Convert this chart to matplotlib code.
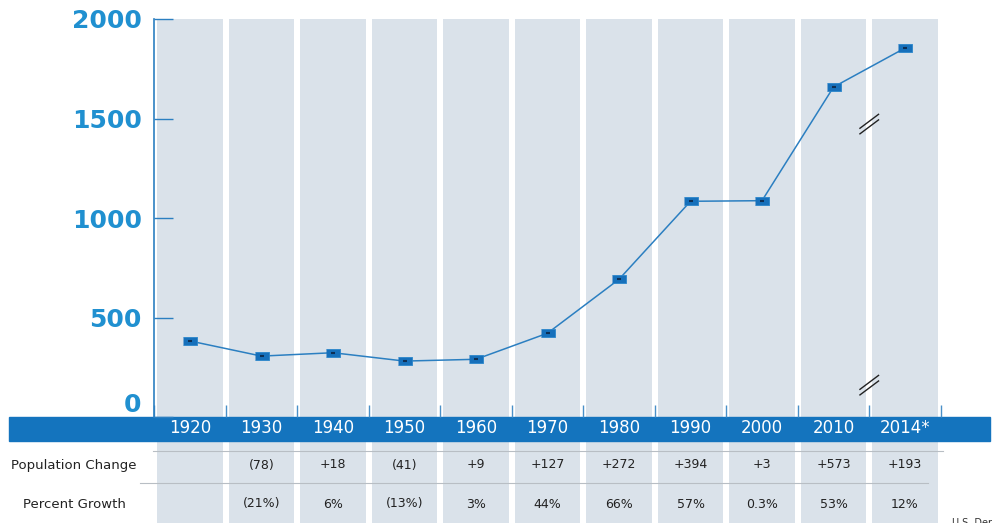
import matplotlib.pyplot as plt
from matplotlib.patches import Rectangle
from matplotlib.transforms import blended_transform_factory

# data
years = ['1920', '1930', '1940', '1950', '1960', '1970', '1980', '1990', '2000', '2010', '2014*']
population = [382, 306, 323, 281, 290, 421, 692, 1084, 1087, 1658, 1854]
pop_change = ['', '(78)', '+18', '(41)', '+9', '+127', '+272', '+394', '+3', '+573', '+193']
pct_growth = ['', '(21%)', '6%', '(13%)', '3%', '44%', '66%', '57%', '0.3%', '53%', '12%']

col_bg = '#dae2ea'
blue = '#2b7fc1'
band_blue = '#1474be'
label_blue = '#2090d0'

W, H = 992, 523
fig = plt.figure(figsize=(W / 100, H / 100), dpi=100)
ax = fig.add_axes([154.25 / W, (H - 417) / H, (940.75 - 154.25) / W, (417 - 19) / H])
ax.set_facecolor('none')
x = list(range(len(years)))

ax.set_xlim(-0.5, len(years) - 0.5)
ax.set_ylim(0, 2000)

# grey columns, running down behind the band and the table
ax.bar(x, 2540, bottom=-540, width=0.91, color=col_bg, zorder=0.5, clip_on=False)

# blue band with year labels
band = Rectangle((9 / W, (H - 441) / H), (990 - 9) / W, 24 / H, transform=fig.transFigure,
                 color=band_blue, zorder=1.5, clip_on=False)
ax.add_patch(band)
tr = blended_transform_factory(ax.transData, fig.transFigure)
for i, y in enumerate(years):
    ax.text(i, (H - 428) / H, y, transform=tr, ha='center', va='center', color='white',
            fontsize=12, family='DejaVu Sans', zorder=5, clip_on=False)

# table rows
for i in x:
    ax.text(i, (H - 465) / H, pop_change[i], transform=tr, ha='center', va='center',
            fontsize=9, color='#222222', zorder=5, clip_on=False)
    ax.text(i, (H - 504) / H, pct_growth[i], transform=tr, ha='center', va='center',
            fontsize=9, color='#222222', zorder=5, clip_on=False)
ftr = fig.transFigure
fig.text(74 / W, (H - 465) / H, 'Population Change', ha='center', va='center', fontsize=9.5, color='#222222')
fig.text(74 / W, (H - 504) / H, 'Percent Growth', ha='center', va='center', fontsize=9.5, color='#222222')
ax.plot([153 / W, 943 / W], [(H - 451) / H] * 2, transform=ftr, color='#b8bec4', lw=0.8, clip_on=False, zorder=3)
ax.plot([140 / W, 928 / W], [(H - 483) / H] * 2, transform=ftr, color='#b8bec4', lw=0.8, clip_on=False, zorder=3)
fig.text(952 / W, 0.0, 'U.S. Department', fontsize=7, color='#333333', va='center')

# population line
rect = [(-1, -0.62), (1, -0.62), (1, 0.62), (-1, 0.62)]
ax.plot(x, population, color=blue, lw=1.1, zorder=3)
ax.plot(x, population, ls='none', marker=rect, ms=10, mfc='#1670bb', mec='#2a86cc', mew=0.6, zorder=4)
ax.plot(x, population, ls='none', marker='_', ms=3, mec='#0d2f55', mew=1.5, zorder=4.5)

# axis break marks
for dy in (0, 28):
    for yc in (1472, 160):
        ax.plot([9.37, 9.63], [yc - 35 + dy - 14, yc + 35 + dy - 14], color='#222222', lw=1.0, zorder=4, clip_on=False)

# axes styling
for s in ['top', 'right', 'bottom']:
    ax.spines[s].set_visible(False)
ax.spines['left'].set_color(blue)
ax.spines['left'].set_linewidth(1.2)
ax.set_yticks([0, 500, 1000, 1500, 2000])
ax.set_yticklabels(['', '500', '1000', '1500', '2000'])
ax.tick_params(axis='y', direction='in', length=14, width=1, color=blue, pad=9,
               labelsize=18, labelcolor=label_blue)
for lab in ax.get_yticklabels():
    lab.set_fontweight('bold')
ax.annotate('0', xy=(0, 0), xycoords=('axes fraction', 'data'), xytext=(-13, 12),
            textcoords='offset pixels', ha='right', va='center', fontsize=18,
            fontweight='bold', color=label_blue)
ax.set_xticks([i + 0.5 for i in range(-1, len(years))])
ax.set_xticklabels([])
ax.tick_params(axis='x', direction='in', length=8.5, width=1, color='#4a90c8')

fig.savefig('out.png', dpi=100)
